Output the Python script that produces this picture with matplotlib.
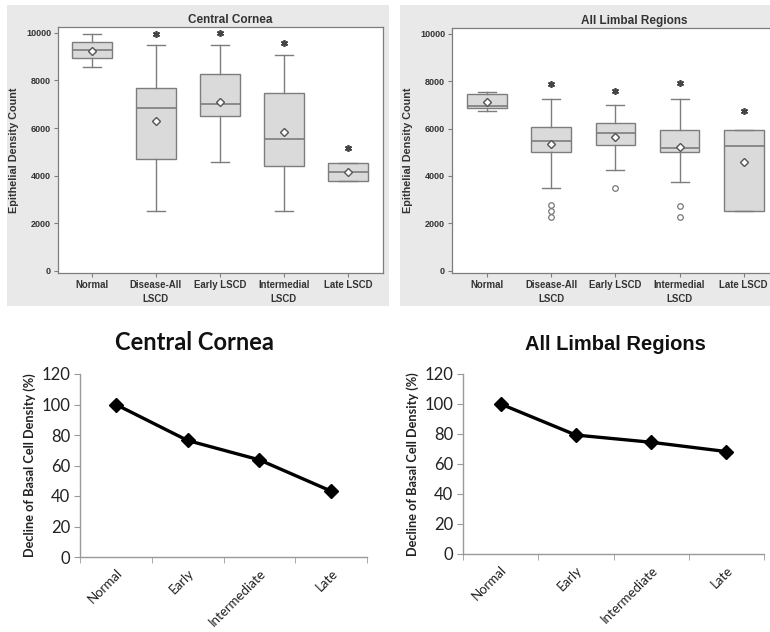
import matplotlib
matplotlib.use("Agg")
import matplotlib.pyplot as plt
from matplotlib.patches import Rectangle

# ---------------- Data ----------------
box_labels = ["Normal", "Disease-All\nLSCD", "Early LSCD", "Intermedial\nLSCD", "Late LSCD"]

# Central Cornea box stats
cc_whislo = [8580, 2520, 4570, 2520, 3750]
cc_q1 = [8955, 4710, 6490, 4390, 3750]
cc_med = [9300, 6830, 7005, 5540, 4150]
cc_q3 = [9610, 7700, 8270, 7490, 4530]
cc_whishi = [9955, 9485, 9485, 9080, 4530]
cc_mean = [9260, 6310, 7075, 5850, 4150]
cc_fliers = [[], [], [], [], []]
cc_star = [None, 9960, 10000, 9580, 5170]

# All Limbal Regions box stats
lr_whislo = [6755, 3500, 4250, 3735, 2520]
lr_q1 = [6866, 5030, 5290, 5030, 2520]
lr_med = [6936, 5475, 5820, 5195, 5265]
lr_q3 = [7450, 6070, 6240, 5920, 5960]
lr_whishi = [7560, 7240, 7005, 7240, 5960]
lr_mean = [7117, 5335, 5640, 5225, 4570]
lr_fliers = [[], [2760, 2520, 2270], [3500], [2730, 2270], []]
lr_star = [None, 7870, 7600, 7910, 6730]

# Line charts
line_cats = ["Normal", "Early", "Intermediate", "Late"]
cc_decline = [100, 76.4, 63.7, 43.2]
lr_decline = [100, 79.3, 74.5, 68.3]

# ---------------- Figure ----------------
W, H = 770, 632
fig = plt.figure(figsize=(W / 100, H / 100), dpi=100)
fig.patch.set_facecolor("white")

def fr(x0, y0, x1, y1):
    """pixel box (top-left origin) -> figure fraction rect"""
    return [x0 / W, 1 - y1 / H, (x1 - x0) / W, (y1 - y0) / H]

# grey panels behind the box plots
for (x0, y0, x1, y1) in [(7, 5, 389, 306), (400, 5, 775, 306)]:
    r = fr(x0, y0, x1, y1)
    fig.patches.append(Rectangle((r[0], r[1]), r[2], r[3], transform=fig.transFigure,
                                 facecolor="#e9e9e9", edgecolor="none", zorder=-10))

grey = "#7d7d7d"
txt = "#333333"
bold_font = ["Liberation Sans", "DejaVu Sans"]

def boxpanel(rect, title, title_x, whislo, q1, med, q3, whishi, mean, fliers, stars, xlim):
    ax = fig.add_axes(rect)
    ax.set_zorder(5)
    ax.set_facecolor("white")
    stats = []
    for i in range(len(box_labels)):
        stats.append(dict(whislo=whislo[i], q1=q1[i], med=med[i], q3=q3[i],
                          whishi=whishi[i], mean=mean[i], fliers=fliers[i],
                          label=box_labels[i]))
    pos = list(range(1, len(box_labels) + 1))
    ax.bxp(stats, positions=pos, widths=0.62, capwidths=0.28, patch_artist=True,
           showmeans=True, showfliers=True,
           boxprops=dict(facecolor="#dadada", edgecolor=grey, linewidth=1.0),
           medianprops=dict(color=grey, linewidth=1.2),
           whiskerprops=dict(color=grey, linewidth=1.0),
           capprops=dict(color=grey, linewidth=1.0),
           meanprops=dict(marker="D", markerfacecolor="white", markeredgecolor="#555555",
                          markersize=4.5, markeredgewidth=1.0),
           flierprops=dict(marker="o", markerfacecolor="white", markeredgecolor="#777777",
                           markersize=4, markeredgewidth=0.9))
    for p, s in zip(pos, stars):
        if s is not None:
            ax.plot(p, s, marker=(6, 2, 0), color="#444444", markersize=5, markeredgewidth=1.2)
    ax.set_xlim(*xlim)
    ax.set_ylim(-100, 10250)
    ax.set_yticks([0, 2000, 4000, 6000, 8000, 10000])
    ax.set_xticks(pos)
    ax.set_xticklabels(box_labels, fontsize=6.9, fontweight="bold", color=txt,
                       family=bold_font, linespacing=1.5)
    for lab in ax.get_yticklabels():
        lab.set_fontsize(6.5)
        lab.set_fontweight("bold")
        lab.set_color(txt)
        lab.set_family(bold_font)
    ax.tick_params(axis="both", direction="out", length=3, color=grey, width=0.8, pad=2)
    for sp in ax.spines.values():
        sp.set_color(grey)
        sp.set_linewidth(0.9)
    ax.set_ylabel("Epithelial Density Count", fontsize=7.8, fontweight="bold", color=txt,
                  family=bold_font, labelpad=5)
    ax.set_title(title, x=title_x, fontsize=8.5, fontweight="bold", color=txt,
                 family=bold_font, pad=3)
    return ax

boxpanel(fr(58, 27, 383, 273), "Central Cornea", 0.53, cc_whislo, cc_q1, cc_med, cc_q3,
         cc_whishi, cc_mean, cc_fliers, cc_star, (0.47, 5.55))
boxpanel(fr(452, 28, 777, 273), "All Limbal Regions", 0.56, lr_whislo, lr_q1, lr_med, lr_q3,
         lr_whishi, lr_mean, lr_fliers, lr_star, (0.45, 5.52))

def linepanel(rect, title, title_x, values, title_font, title_size):
    ax = fig.add_axes(rect)
    x = list(range(1, len(line_cats) + 1))
    ax.plot(x, values, color="black", linewidth=2.4, marker="D", markersize=7.5,
            markerfacecolor="black", markeredgecolor="black")
    ax.set_xlim(0.5, len(line_cats) + 0.5)
    ax.set_ylim(0, 120)
    ax.set_yticks(range(0, 121, 20))
    ax.set_xticks(x)
    ax.set_xticks([i + 0.5 for i in range(len(line_cats) + 1)], minor=True)
    ax.set_xticklabels(line_cats, rotation=45, ha="right", va="top", rotation_mode="anchor",
                       fontsize=9.5, family=["Lato", "DejaVu Sans"], color="#222222")
    ax.tick_params(axis="x", which="major", length=0, pad=7)
    ax.tick_params(axis="x", which="minor", length=4, direction="out", color="#999999")
    ax.tick_params(axis="y", length=4, direction="out", color="#999999", pad=3)
    for lab in ax.get_yticklabels():
        lab.set_fontsize(12)
        lab.set_family(["Lato", "DejaVu Sans"])
        lab.set_color("#222222")
    for s in ["top", "right"]:
        ax.spines[s].set_visible(False)
    for s in ["left", "bottom"]:
        ax.spines[s].set_color("#999999")
        ax.spines[s].set_linewidth(1.0)
    ax.set_ylabel("Decline of Basal Cell Density (%)", fontsize=9.2, fontweight="bold",
                  family=["Lato", "DejaVu Sans"], color="#222222", labelpad=4)
    ax.set_title(title, x=title_x, fontsize=title_size, fontweight="bold", family=title_font,
                 color="#111111", pad=17)
    return ax

linepanel(fr(80, 374, 367, 557), "Central Cornea", 0.40, cc_decline,
          ["Lato", "DejaVu Sans"], 17)
linepanel(fr(463, 374, 764, 554), "All Limbal Regions", 0.505, lr_decline,
          ["Liberation Sans", "DejaVu Sans"], 14.5)

fig.savefig("out.png", dpi=100)
